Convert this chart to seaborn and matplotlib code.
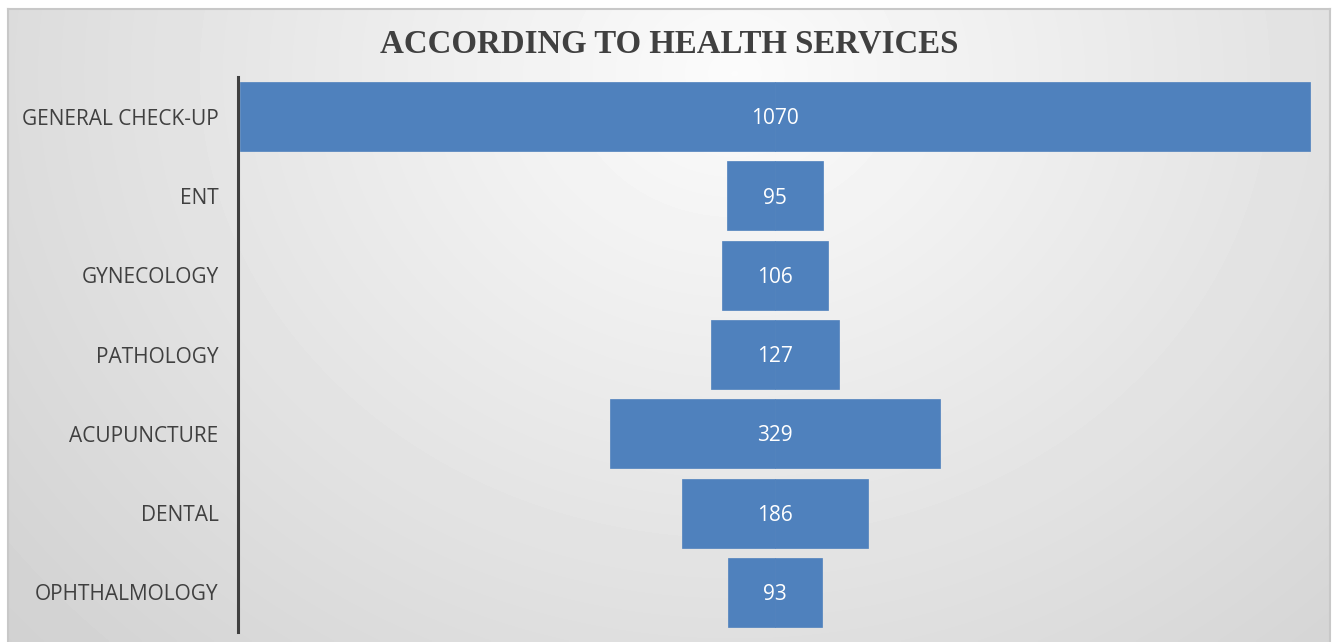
import numpy as np
import pandas as pd
import matplotlib
matplotlib.use("Agg")
import matplotlib.pyplot as plt
import matplotlib.transforms as mtransforms
import seaborn as sns

categories = ["GENERAL CHECK-UP", "ENT", "GYNECOLOGY", "PATHOLOGY",
              "ACUPUNCTURE", "DENTAL", "OPHTHALMOLOGY"]
values = [1070, 95, 106, 127, 329, 186, 93]
title = "ACCORDING TO HEALTH SERVICES"

sns.set_theme(style="white")
plt.rcParams['font.family'] = ['Open Sans', 'DejaVu Sans']

W, H = 1332, 642
fig = plt.figure(figsize=(W / 100, H / 100), dpi=100)
fig.patch.set_facecolor("white")

# background panel with radial gradient
bg = fig.add_axes([8 / W, 0, (1330 - 8) / W, (642 - 9) / H])
ny, nx = 200, 400
yy, xx = np.mgrid[0:1:ny * 1j, 0:1:nx * 1j]
r = np.sqrt(((xx - 0.55) * 1.0) ** 2 + ((yy - 0.9) * 0.55) ** 2)
r = r / r.max()
c0, c1 = 0.985, 0.82
v = c0 - (c0 - c1) * r
bg.imshow(v, cmap="gray", vmin=0, vmax=1, aspect="auto", origin="lower",
          extent=[0, 1, 0, 1], interpolation="bilinear")
bg.set_xlim(0, 1)
bg.set_ylim(0, 1)
bg.set_xticks([])
bg.set_yticks([])
for s in bg.spines.values():
    s.set_color("#c8c8c8")
    s.set_linewidth(1.5)
bg.spines["bottom"].set_visible(False)

ax = fig.add_axes([238 / W, 1 - 632 / H, (1312 - 238) / W, (632 - 77) / H])
ax.set_facecolor("none")

df = pd.DataFrame({"cat": categories, "half": [v_ / 2 for v_ in values]})
df["neg"] = -df["half"]
color = "#4F81BD"
sns.barplot(data=df, x="half", y="cat", orient="h", color=color,
            width=0.87, ax=ax, saturation=1, edgecolor=color, linewidth=0.5)
sns.barplot(data=df, x="neg", y="cat", orient="h", color=color,
            width=0.87, ax=ax, saturation=1, edgecolor=color, linewidth=0.5)

ax.set_xlim(-536.5, 536.5)
ax.set_xlabel("")
ax.set_ylabel("")
ax.set_xticks([])
ax.tick_params(axis="y", length=0, pad=14, labelsize=15, labelcolor="#404040")
for s in ["top", "right", "bottom"]:
    ax.spines[s].set_visible(False)
ax.spines["left"].set_color("#404040")
ax.spines["left"].set_linewidth(2.2)

tr = mtransforms.offset_copy(ax.transData, fig=fig, x=0, y=-1.5, units="points")
for i, val in enumerate(values):
    ax.text(0, i, str(val), ha="center", va="center", color="white",
            fontsize=15, transform=tr)

fig.text(669 / W, 1 - 44 / H, title, ha="center", va="center",
         fontsize=23.7, fontweight="bold", color="#404040",
         family=["Liberation Serif", "DejaVu Serif"])

fig.savefig("out.png", dpi=100)
